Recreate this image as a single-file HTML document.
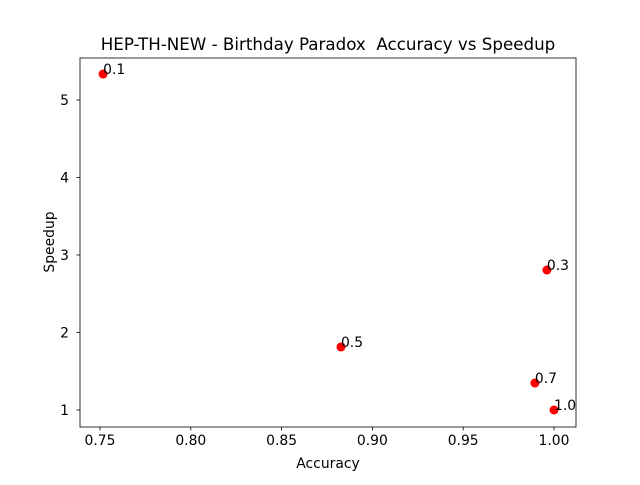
<!DOCTYPE html>
<html><head><meta charset="utf-8"><style>
body{margin:0;background:#fff;}
svg text{font-family:"DejaVu Sans","Liberation Sans",sans-serif;white-space:pre;}
</style></head><body>
<svg id="chart" width="640" height="480">
<rect width="640" height="480" fill="#fff"/>
<text x="328" y="50" text-anchor="middle" font-size="16.7" xml:space="preserve">HEP-TH-NEW - Birthday Paradox  Accuracy vs Speedup</text>
<g id="xt"></g><g id="yt"></g><g id="pts"></g>
<rect x="80" y="58" width="496" height="369" fill="none" stroke="#000" stroke-width="0.8"/>
<text x="328" y="468" text-anchor="middle" font-size="13.9">Accuracy</text>
<text transform="translate(54,242) rotate(-90)" text-anchor="middle" font-size="13.9">Speedup</text>
</svg>
<script>
const labels=["0.1","0.3","0.5","0.7","1.0"];
const accuracy=[0.7517,0.9961,0.8827,0.9895,1.0];
const speedup=[5.335,2.806,1.813,1.348,1.0];
const xTicks=[0.75,0.80,0.85,0.90,0.95,1.00];
const yTicks=[1,2,3,4,5];
const NS="http://www.w3.org/2000/svg";
function sx(v){return 100+(v-0.75)/0.25*454;}
function sy(v){return 410-(v-1)*77.5;}
function mk(t,a,p){const e=document.createElementNS(NS,t);for(const k in a)e.setAttribute(k,a[k]);p.appendChild(e);return e;}
const xt=document.getElementById('xt'),yt=document.getElementById('yt'),pts=document.getElementById('pts');
xTicks.forEach(v=>{const x=sx(v);
const l=mk('line',{x1:x,x2:x,y1:427,y2:430.5,stroke:'#000','stroke-width':0.8},xt);


const t=mk('text',{x:x,y:445,'text-anchor':'middle','font-size':13.9},xt);t.textContent=v.toFixed(2);

});
yTicks.forEach(v=>{const y=sy(v);
const l=mk('line',{x1:76.5,x2:80,y1:y,y2:y,stroke:'#000','stroke-width':0.8},yt);


const t=mk('text',{x:69,y:y+5,'text-anchor':'end','font-size':13.9},yt);t.textContent=v;

});
accuracy.forEach((a,i)=>{const x=sx(a),y=sy(speedup[i]);
const c=mk('circle',{cx:x,cy:y,r:4.5,fill:'#ff0000'},pts);


const t=mk('text',{x:x,y:y,'font-size':13.9},pts);t.textContent=labels[i];

});
</script>
</body></html>
